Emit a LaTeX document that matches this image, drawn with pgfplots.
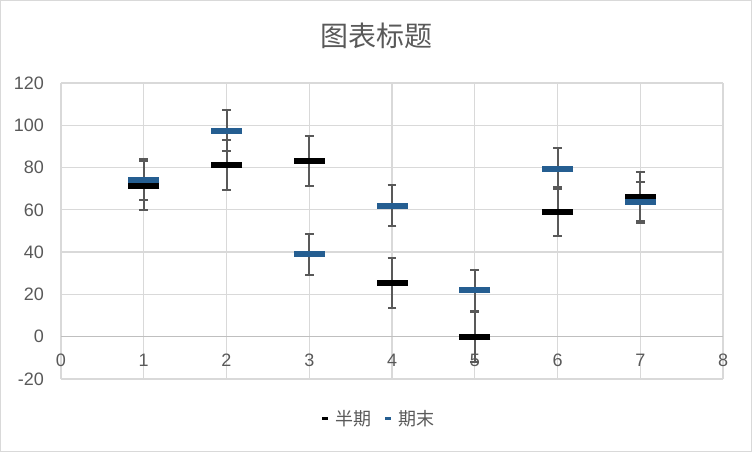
\documentclass[border=0pt]{standalone}
\usepackage{fontspec}
\setmainfont{Liberation Sans}
\newfontfamily\cjk{Noto Sans CJK SC}
\usepackage{pgfplots}
\pgfplotsset{compat=1.18}
\definecolor{txt}{HTML}{595959}
\definecolor{gridc}{HTML}{D9D9D9}
\definecolor{axc}{HTML}{BFBFBF}
\definecolor{blu}{HTML}{255E91}
\definecolor{errc}{HTML}{595959}
\begin{document}
\begin{tikzpicture}[x=1bp,y=1bp]
\path[use as bounding box] (0,0) rectangle (752,452);
\draw[gridc, line width=1bp] (0.5,0.5) rectangle (751.5,451.5);
\node[font=\cjk\fontsize{28bp}{32bp}\selectfont, text=txt] at (376,416) {图表标题};
\begin{axis}[
  scale only axis, width=662bp, height=296bp, at={(61bp,73bp)}, anchor=south west,
  xmin=0, xmax=8, ymin=-20, ymax=120,
  xtick={0,1,...,8}, ytick={-20,0,20,...,120},
  axis x line=middle, axis y line=left,
  hide obscured x ticks=false, hide obscured y ticks=false,
  x axis line style={-, draw=axc, line width=1.3bp},
  y axis line style={-, draw=none},
  major tick length=0pt,
  grid=major, grid style={gridc, line width=1.3bp},
  tick label style={font=\fontsize{18bp}{20bp}\selectfont, text=txt},
  /pgf/number format/assume math mode=true,
  xticklabel style={anchor=north, inner sep=0pt, yshift=-17bp},
  yticklabel style={anchor=east, inner sep=0pt, xshift=-17bp},
  legend style={at={(0.481,-0.135)}, anchor=center, draw=none, fill=none,
    legend columns=2, font=\cjk\fontsize{18bp}{20bp}\selectfont, text=txt,
    /tikz/every even column/.append style={column sep=11bp}},
  legend cell align=left,
]
\addplot[only marks, color=black, mark=-, mark size=15.5bp,
  mark options={line width=6bp, draw=black},
  legend image code/.code={\fill[black, draw=none] (0bp,-1.5bp) rectangle (6.5bp,1.5bp); \path[draw=none, fill=none] (0bp,0bp) -- (12bp,0bp);},
  error bars/.cd, y dir=both, y fixed=11.8,
  error bar style={errc, line width=2bp},
  error mark options={errc, line width=2bp, mark size=4.3bp, rotate=90}]
  coordinates {(1,71.5) (2,81.4) (3,83.3) (4,25.2) (5,0) (6,59.2) (7,66.3)};
\addlegendentry{半期}
\addplot[only marks, color=blu, mark=-, mark size=15.5bp,
  mark options={line width=6bp, draw=blu},
  legend image code/.code={\fill[blu, draw=none] (0bp,-1.5bp) rectangle (6.5bp,1.5bp); \path[draw=none, fill=none] (0bp,0bp) -- (12bp,0bp);},
  error bars/.cd, y dir=both, y fixed=9.7,
  error bar style={errc, line width=2bp},
  error mark options={errc, line width=2bp, mark size=4.3bp, rotate=90}]
  coordinates {(1,74.3) (2,97.5) (3,38.9) (4,61.9) (5,21.9) (6,79.5) (7,63.5)};
\addlegendentry{期末}
\end{axis}
\end{tikzpicture}
\end{document}
